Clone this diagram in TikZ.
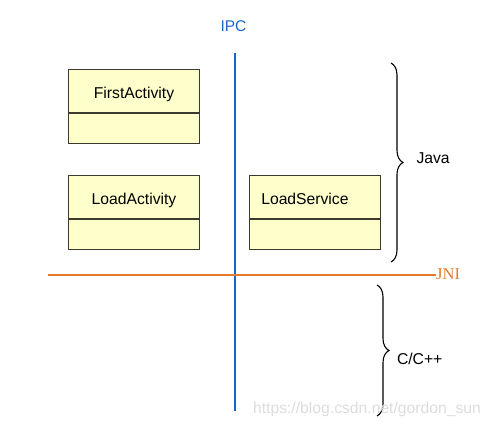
\documentclass[tikz,border=0pt]{standalone}
\usepackage{fontspec}
\setmainfont{Liberation Sans}
\newfontfamily\jniserif{Liberation Serif}
\usepackage{tikz}
\usetikzlibrary{positioning,decorations.pathreplacing}

\definecolor{boxfill}{HTML}{FFFFCC}
\definecolor{boxline}{HTML}{3A3A30}
\definecolor{ipcblue}{HTML}{1A66C8}
\definecolor{jniorange}{HTML}{E27A2C}
\definecolor{markgray}{HTML}{DCDCDC}

\tikzset{
  classhead/.style = {draw=boxline, fill=boxfill, line width=1.3pt, outer sep=0pt,
    minimum width=131.4pt, minimum height=43.3pt, text height=14pt, text depth=0.4pt,
    font=\fontsize{15.7}{18}\selectfont},
  classbody/.style = {classhead, minimum height=30.4pt},
  lefttext/.style = {text width=107.4pt, inner xsep=12pt, align=left},
  layerbrace/.style = {decorate, decoration={brace, amplitude=12pt}, line width=1.1pt},
  sidelabel/.style = {font=\fontsize{15.7}{18}\selectfont},
}

\begin{document}
\begin{tikzpicture}[x=1pt, y=-1pt]
  \useasboundingbox (0,0) rectangle (490,427);

  % java side classes
  \node[classhead] (first) at (134,91.4) {FirstActivity};
  \node[classbody, below=0pt of first] (firstbody) {};

  \node[classhead, below=32.4pt of firstbody] (loadact) {LoadActivity};
  \node[classbody, below=0pt of loadact] (loadactbody) {};

  \node[classhead, lefttext, right=49.6pt of loadact] (loadsrv) {LoadService};
  \node[classbody, below=0pt of loadsrv] (loadsrvbody) {};

  % IPC boundary
  \node[text=ipcblue, font=\fontsize{15.5}{18}\selectfont] (ipc) at (233.5,26) {IPC};
  \coordinate (ipctop) at (234.7,53);
  \coordinate (ipcbot) at (234.7,411);
  \draw[ipcblue, line width=2.3pt] (ipctop) -- (ipcbot);

  % JNI boundary
  \node[text=jniorange, anchor=west, inner sep=0pt,
        font=\jniserif\fontsize{16.5}{18}\selectfont] (jni) at (436,274) {JNI};
  \coordinate (jnistart) at (48,275.5);
  \draw[jniorange, line width=2pt] (jnistart) -- (jni.west |- jnistart);

  % layers
  \coordinate (javatop) at (391,63);
  \coordinate (javabot) at (391,262);
  \draw[layerbrace] (javatop) -- (javabot);
  \node[sidelabel, anchor=west] (java) at (413,158.3) {Java};

  \coordinate (ctop) at (377,285);
  \coordinate (cbot) at (377,416);
  \draw[layerbrace] (ctop) -- (cbot);
  \node[sidelabel, anchor=west] (clang) at (393.5,359) {C/C++};

  \node[text=markgray, font=\fontsize{15.7}{18}\selectfont] (mark) at (367,409) {https://blog.csdn.net/gordon\_sun};
\end{tikzpicture}
\end{document}
